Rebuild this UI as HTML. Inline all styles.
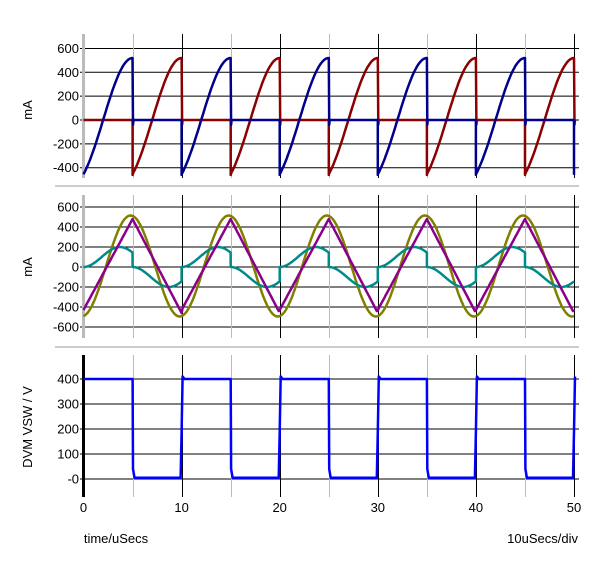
<!DOCTYPE html>
<html><head><meta charset="utf-8"><style>
html,body{margin:0;padding:0;background:#fff;}
svg{display:block;font-family:"Liberation Sans",sans-serif;font-size:13px;}
</style></head><body>
<svg id="s" width="600" height="563" xmlns="http://www.w3.org/2000/svg">
<rect width="600" height="563" fill="#fff"/>
<g id="grid"></g>
<g id="curves"></g>
<g id="labels" fill="#000">
<text x="116" y="543" text-anchor="middle">time/uSecs</text>
<text x="578" y="543" text-anchor="end">10uSecs/div</text>
<text transform="translate(32,110) rotate(-90)" text-anchor="middle">mA</text>
<text transform="translate(32,267) rotate(-90)" text-anchor="middle">mA</text>
<text transform="translate(32,427) rotate(-90)" text-anchor="middle">DVM VSW / V</text>
</g>
</svg>
<script>
var NS="http://www.w3.org/2000/svg";
function X(t){return 83.5+t*9.81;}
function el(p,tag,a,txt){var e=document.createElementNS(NS,tag);for(var k in a)e.setAttribute(k,a[k]);if(txt!==undefined)e.textContent=txt;document.getElementById(p).appendChild(e);return e;}
var panels=[
 {top:34,bot:178,y0:120,s:23.85/200,ticks:[600,400,200,0,-200,-400],axis:"#bbb"},
 {top:195,bot:338,y0:267,s:20/200,ticks:[600,400,200,0,-200,-400,-600],axis:"#bbb"},
 {top:355,bot:497,y0:479,s:25/100,ticks:[400,300,200,100,0],axis:"#000"}
];
panels.forEach(function(p,i){
 p.Y=function(v){return p.y0-v*p.s;};
 p.ticks.forEach(function(v){
  var y=p.Y(v);
  el("grid","line",{x1:80,x2:579,y1:y,y2:y,stroke:"#000","stroke-width":1});
  el("labels","text",{x:79,y:y+4.5,"text-anchor":"end"},(i==2&&v==0)?"-0":String(v));
 });
 for(var t=5;t<=50;t+=5){
  var x=Math.round(X(t))+0.5;
  el("grid","line",{x1:x,x2:x,y1:p.top,y2:p.bot,stroke:(t%10==0)?"#000":"#bbb","stroke-width":1});
 }
 el("grid","line",{x1:83.5,x2:83.5,y1:p.top,y2:p.bot,stroke:p.axis,"stroke-width":3});
 if(i<2){var sy=(i==0)?186:347;el("grid","line",{x1:55,x2:579,y1:sy,y2:sy,stroke:"#bbb","stroke-width":1.5});}
});
[0,10,20,30,40,50].forEach(function(t){el("labels","text",{x:X(t),y:512,"text-anchor":"middle"},String(t));});

function path(pts,col,w){var d="";pts.forEach(function(q,k){d+=(k?"L":"M")+q[0].toFixed(1)+" "+q[1].toFixed(1);});el("curves","path",{d:d,fill:"none",stroke:col,"stroke-width":w||2.5,"stroke-linejoin":"round"});}
var P1=panels[0],P2=panels[1],P3=panels[2];
function rv(s){var a=-455+975*Math.sin(Math.PI*s/10);var b=32-487*Math.cos(Math.PI*s/5);return 0.5*a+0.5*b;}
function p1(phase){
 var pts=[];
 for(var per=0;per<5;per++){
  var a=per*10+phase;
  if(a<50){
   for(var s=0;s<=5.001;s+=0.1){pts.push([X(a+s),P1.Y(rv(s))]);}
   pts.push([X(a+5.05),P1.Y(-40)]);pts.push([X(a+5.1),P1.Y(0)]);
  }
  var b=a+5; var e=Math.min(a+10,50);
  if(b<50){pts.push([X(b+0.1),P1.Y(0)]);pts.push([X(e),P1.Y(0)]);}
  if(a+10<=50.01){pts.push([X(a+10),P1.Y(-460)]);}
 }
 return pts;
}
var blue=p1(0);
var red=[[X(0),P1.Y(0)],[X(5),P1.Y(0)],[X(5),P1.Y(-460)]].concat(p1(5));
path(red,"#8b0000");path(blue,"#00008b");
var ol=[],pu=[],te=[];
for(var t=0;t<=50.001;t+=0.1){
 ol.push([X(t),P2.Y(10-505*Math.cos(Math.PI*(t+0.2)/5))]);
 var s=t%10,v;
 v = s<=5 ? -430+910*s/5 : 480-940*(s-5)/5;
 pu.push([X(t),P2.Y(v)]);
}
for(var h=0;h<10;h++){
 var sg=(h%2==0)?1:-1;
 for(var s=0;s<=5.001;s+=0.1){te.push([X(h*5+s),P2.Y(sg*100*(1-Math.cos(2*Math.PI*s/7.4)))]);}
}
path(ol,"#808000");path(te,"#008b8b");path(pu,"#8b008b");
var sq=[[X(0),P3.Y(400)]];
for(var per=0;per<5;per++){
 var a=per*10;
 sq.push([X(a+5),P3.Y(400)]);sq.push([X(a+5.05),P3.Y(40)]);sq.push([X(a+5.2),P3.Y(5)]);
 sq.push([X(a+9.9),P3.Y(5)]);sq.push([X(a+10),P3.Y(190)]);sq.push([X(a+10.1),P3.Y(410)]);
 if(a+10<50)sq.push([X(a+10.3),P3.Y(400)]);
}
path(sq,"#0000ff");
</script>
</body></html>
